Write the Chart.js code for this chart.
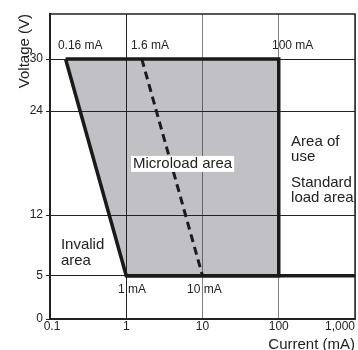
<!DOCTYPE html>
<html>
<head>
<meta charset="utf-8">
<script src="https://cdn.jsdelivr.net/npm/chart.js@4"></script>
<style>
    body { margin: 0; background: #fff; }
    #wrap { width: 358px; height: 350px; }
</style>
</head>
<body>
<div id="wrap"><canvas id="chart"></canvas></div>
<script>
// axis ticks
let xTicks = [0.1, 1, 10, 100, 1000];
let yTicks = [0, 5, 12, 24, 30];

// microload area (polygon)
let areaX = [0.16, 100, 100, 1, 0.16];
let areaY = [30, 30, 5, 5, 30];

// 5 V floor up to 1,000 mA
let floorX = [1, 1000];
let floorY = [5, 5];

// 1.6 mA -> 10 mA dashed boundary
let dashX = [1.6, 10];
let dashY = [30, 5];

function pts(xs, ys) {
    return xs.map((x, i) => ({ x: x, y: ys[i] }));
}

const FONT = '"Liberation Sans", Arial, Helvetica, sans-serif';

/* text annotations, anchored in data units */
let notes = [
    { t: "0.16 mA", x: 0.127, y: 31.5, size: 12 },
    { t: "1.6 mA", x: 1.15, y: 31.5, size: 12 },
    { t: "100 mA", x: 81.5, y: 31.5, size: 12 },
    { t: "1 mA", x: 0.78, y: 3.35, size: 12 },
    { t: "10 mA", x: 6.27, y: 3.35, size: 12 },
    { t: "Microload area", x: 1.226, y: 17.9, size: 15, box: true },
    { t: "Area of", x: 145, y: 20.5, size: 15 },
    { t: "use", x: 145, y: 18.7, size: 15 },
    { t: "Standard", x: 145, y: 15.7, size: 15 },
    { t: "load area", x: 145, y: 14.0, size: 15 },
    { t: "Invalid", x: 0.139, y: 8.5, size: 15 },
    { t: "area", x: 0.139, y: 6.7, size: 15 }
];

const extras = {
    id: "extras",
    afterDatasetsDraw(chart) {
        let ctx = chart.ctx;
        let xs = chart.scales.x, ys = chart.scales.y;
        let a = chart.chartArea;
        ctx.save();

        // frame
        ctx.strokeStyle = "#222";
        ctx.lineWidth = 1.5;
        ctx.strokeRect(a.left, a.top, a.right - a.left, a.bottom - a.top);

        ctx.textBaseline = "middle";
        ctx.textAlign = "left";
        notes.forEach(n => {
            ctx.font = n.size + "px " + FONT;
            let px = xs.getPixelForValue(n.x);
            let py = ys.getPixelForValue(n.y);
            if (n.box) {
                let w = ctx.measureText(n.t).width;
                ctx.fillStyle = "#fff";
                ctx.fillRect(px - 2, py - 8, w + 4, 16);
            }
            ctx.fillStyle = "#222";
            ctx.fillText(n.t, px, py);
        });

        // x tick labels
        ctx.font = "12px " + FONT;
        xTicks.forEach((v, i) => {
            let label = v >= 1000 ? v.toLocaleString("en-US") : String(v);
            ctx.textAlign = i === xTicks.length - 1 ? "right" : "center";
            let px = xs.getPixelForValue(v);
            if (i === 0) px += 2;
            ctx.fillText(label, px, a.bottom + 8);
        });

        // axis titles
        ctx.font = "15px " + FONT;
        ctx.textAlign = "right";
        ctx.fillText("Current (mA)", a.right, a.bottom + 26);

        ctx.translate(25, a.top);
        ctx.rotate(-Math.PI / 2);
        ctx.textAlign = "right";
        ctx.fillText("Voltage (V)", 0, 0);
        ctx.restore();
    }
};

new Chart(document.getElementById("chart"), {
    type: "scatter",
    data: {
        datasets: [
            {
                data: pts(areaX, areaY),
                showLine: true,
                fill: "shape",
                backgroundColor: "rgba(30,30,45,0.28)",
                borderColor: "#1a1a1a",
                borderWidth: 3.5,
                borderJoinStyle: "miter",
                pointRadius: 0,
                tension: 0
            },
            {
                data: pts(floorX, floorY),
                showLine: true,
                borderColor: "#1a1a1a",
                borderWidth: 3.5,
                pointRadius: 0
            },
            {
                data: pts(dashX, dashY),
                showLine: true,
                borderColor: "#1a1a1a",
                borderWidth: 3,
                borderDash: [8, 5],
                pointRadius: 0
            }
        ]
    },
    options: {
        responsive: true,
        maintainAspectRatio: false,
        animation: false,
        layout: { padding: { top: 14, right: 3, left: 0, bottom: 0 } },
        plugins: { legend: { display: false }, tooltip: { enabled: false } },
        scales: {
            x: {
                type: "logarithmic",
                min: 0.1,
                max: 1000,
                afterBuildTicks: s => { s.ticks = xTicks.map(v => ({ value: v })); },
                afterFit: s => { s.height = 31; },
                ticks: { display: false },
                grid: {
                    color: c => (c.tick && c.tick.value === 1 ? "#222" : "#808080"),
                    lineWidth: 1,
                    tickLength: 0,
                    drawTicks: false
                },
                border: { color: "#222", width: 1.5 }
            },
            y: {
                min: 0,
                max: 35.2,
                afterBuildTicks: s => { s.ticks = yTicks.map(v => ({ value: v })); },
                afterFit: s => { s.width = 50; },
                ticks: {
                    font: { size: 12, family: FONT },
                    color: "#222",
                    padding: 3
                },
                grid: { color: "#222", lineWidth: 1, tickLength: 4 },
                border: { color: "#222", width: 2 }
            }
        }
    },
    plugins: [extras]
});
</script>
</body>
</html>
